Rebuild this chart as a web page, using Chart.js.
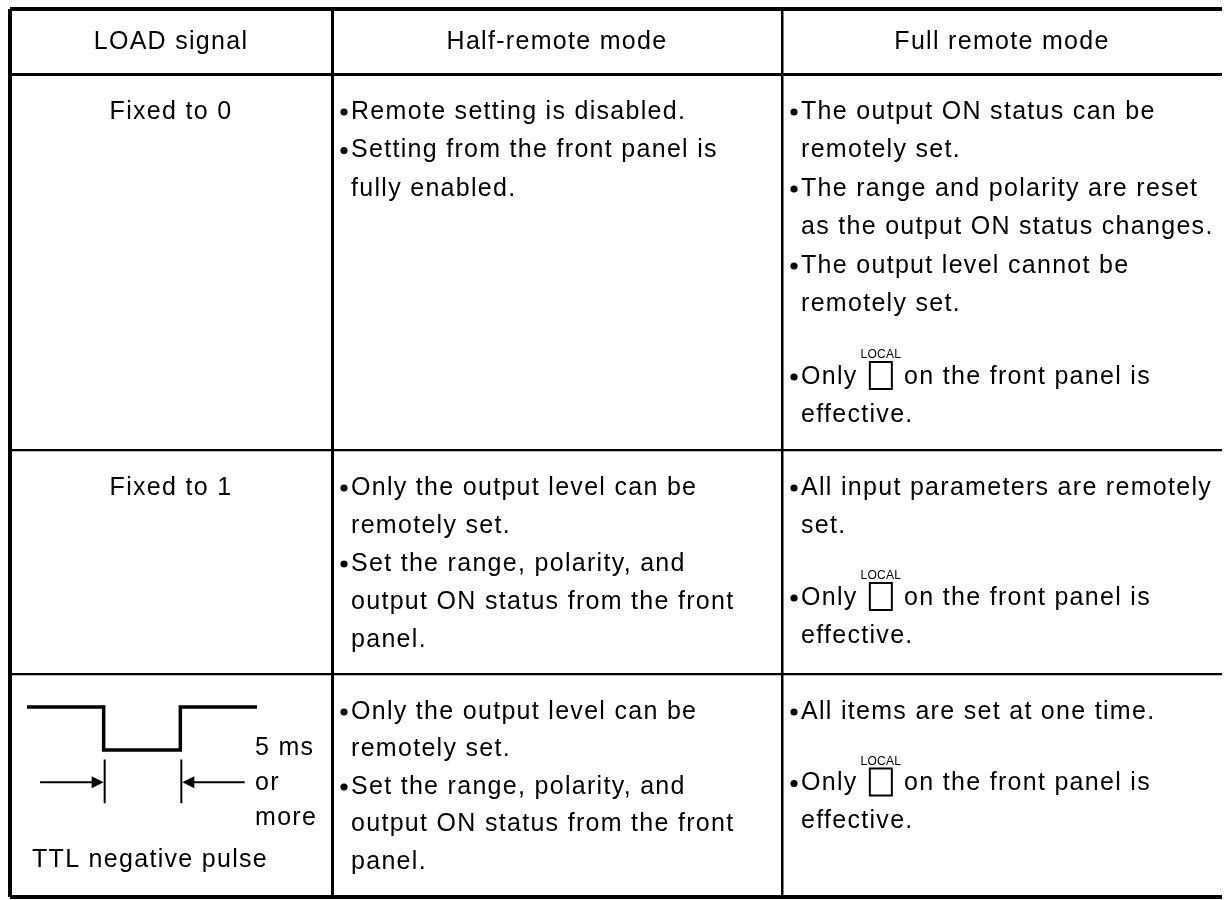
<!DOCTYPE html>
<html>
<head>
<meta charset="utf-8">
<script src="https://cdn.jsdelivr.net/npm/chart.js@4.4.1/dist/chart.umd.min.js"></script>
<style>
  html, body { margin: 0; padding: 0; background: #fff; }
  #wrap { width: 1226px; height: 900px; }
</style>
</head>
<body>
<div id="wrap"><canvas id="tabla"></canvas></div>
<script>
// ---- data ----
const headers = ["LOAD signal", "Half-remote mode", "Full remote mode"];
const loadSignal = ["Fixed to 0", "Fixed to 1", "TTL negative pulse"];

// each cell = list of bullets, each bullet = list of text lines
const halfRemote = [
  [["Remote setting is disabled."],
   ["Setting from the front panel is", "fully enabled."]],
  [["Only the output level can be", "remotely set."],
   ["Set the range, polarity, and", "output ON status from the front", "panel."]],
  [["Only the output level can be", "remotely set."],
   ["Set the range, polarity, and", "output ON status from the front", "panel."]]
];
const fullRemote = [
  [["The output ON status can be", "remotely set."],
   ["The range and polarity are reset", "as the output ON status changes."],
   ["The output level cannot be", "remotely set."],
   ["Only {LOCAL} on the front panel is", "effective."]],
  [["All input parameters are remotely", "set."],
   ["Only {LOCAL} on the front panel is", "effective."]],
  [["All items are set at one time."],
   ["Only {LOCAL} on the front panel is", "effective."]]
];
const keyLabel = "LOCAL";

// TTL pulse (time in ms, logic level)
const pulseTime = [0, 5, 5, 10, 10, 15];
const pulseLevel = [1, 1, 0, 0, 1, 1];
const pulseNote = ["5 ms", "or", "more"];

// ---- layout ----
const COLS = [10, 332, 782, 1222];
const ROWS = [9, 74, 450, 674, 897];
const COL_W = [4, 3, 2.5];
const ROW_W = [4, 3, 2.2, 2.2, 4];
const FONT = '25px "Liberation Sans", Arial, sans-serif';
const SPACING = '1.3px';
const KEY_FONT = '12px "Liberation Sans", Arial, sans-serif';
const TEXT_COLOR = '#000';
const PITCH = [38.5, 38, 37.5];   // line pitch per row
const FIRST = 38;                 // row top -> first line centre
const KEY_EXTRA = 34;             // extra room above a line with the LOCAL key
const BUL_X = 12, TXT_X = 19, CONT_X = 19;
const KEY_BOX = { w: 22, up: 15, down: 12, gap: 4 };
const PULSE_ROW = 2;
const PULSE_BOX = { left: 27, right: 257, top: 707, bottom: 750 };
const ARROW = { y: -0.75, tickTop: -0.22, tickBottom: -1.24, tailL: 0.85, tailR: 14.2 };
const NOTE = { x: 255, y: [748, 783, 818] };
const TTL_POS = { x: 32, y: 860 };

// value range for a hidden scale so that v0->d0 and v1->d1 (distance from area start)
function fitRange(v0, v1, d0, d1, span) {
  const ppu = (d1 - d0) / (v1 - v0);
  const min = v0 - d0 / ppu;
  return { min: min, max: min + span / ppu };
}
const areaW = COLS[3] - COLS[0], areaH = ROWS[4] - ROWS[0];
const xPr = fitRange(0, 15, PULSE_BOX.left - COLS[0], PULSE_BOX.right - COLS[0], areaW);
const yPr = fitRange(0, 1, ROWS[4] - PULSE_BOX.bottom, ROWS[4] - PULSE_BOX.top, areaH);

function drawCell(ctx, px, py, items, colLeft, yStart, pitch) {
  let y = yStart;
  items.forEach(lines => {
    lines.forEach((line, k) => {
      if (line.includes('{LOCAL}') && y > yStart) y += KEY_EXTRA;
      let x = colLeft + (k === 0 ? TXT_X : CONT_X);
      if (k === 0) {
        ctx.beginPath();
        ctx.arc(px(colLeft + BUL_X), py(y), 3.6, 0, Math.PI * 2);
        ctx.fill();
      }
      ctx.textAlign = 'left';
      if (line.includes('{LOCAL}')) {
        const parts = line.split('{LOCAL}');
        ctx.fillText(parts[0], px(x), py(y));
        x += ctx.measureText(parts[0]).width + KEY_BOX.gap;
        // key box with its label
        ctx.lineWidth = 2;
        ctx.strokeRect(px(x), py(y - KEY_BOX.up), KEY_BOX.w, KEY_BOX.up + KEY_BOX.down);
        ctx.save();
        ctx.font = KEY_FONT;
        ctx.letterSpacing = '0.3px';
        ctx.textAlign = 'center';
        ctx.textBaseline = 'alphabetic';
        ctx.fillText(keyLabel, px(x + KEY_BOX.w / 2), py(y - KEY_BOX.up - 4));
        ctx.restore();
        x += KEY_BOX.w + KEY_BOX.gap;
        ctx.fillText(parts[1], px(x), py(y));
      } else {
        ctx.fillText(line, px(x), py(y));
      }
      y += pitch;
    });
  });
}

const tablaPlugin = {
  id: 'tabla',
  afterDraw(chart) {
    const ctx = chart.ctx;
    const sx = chart.scales.x, sy = chart.scales.y;
    const px = v => sx.getPixelForValue(v), py = v => sy.getPixelForValue(v);
    ctx.save();
    ctx.fillStyle = TEXT_COLOR;
    ctx.strokeStyle = TEXT_COLOR;
    ctx.font = FONT;
    ctx.letterSpacing = SPACING;
    ctx.textBaseline = 'middle';

    ctx.textAlign = 'center';
    headers.forEach((h, i) => {
      ctx.fillText(h, px((COLS[i] + COLS[i + 1]) / 2), py((ROWS[0] + ROWS[1]) / 2 + 1));
    });

    loadSignal.forEach((t, r) => {
      const first = ROWS[r + 1] + FIRST;
      if (r === PULSE_ROW) {
        ctx.textAlign = 'left';
        ctx.fillText(t, px(TTL_POS.x), py(TTL_POS.y));
      } else {
        ctx.textAlign = 'center';
        ctx.fillText(t, px((COLS[0] + COLS[1]) / 2), py(first));
      }
      drawCell(ctx, px, py, halfRemote[r], COLS[1], first, PITCH[r]);
      drawCell(ctx, px, py, fullRemote[r], COLS[2], first, PITCH[r]);
    });

    // pulse width marks
    ctx.textAlign = 'left';
    pulseNote.forEach((t, i) => ctx.fillText(t, px(NOTE.x), py(NOTE.y[i])));
    const qx = chart.scales.xP, qy = chart.scales.yP;
    const x1 = qx.getPixelForValue(pulseTime[1]), x2 = qx.getPixelForValue(pulseTime[3]);
    const ay = qy.getPixelForValue(ARROW.y);
    ctx.lineWidth = 2;
    ctx.beginPath();
    [x1 + 1, x2 + 1].forEach(x => {
      ctx.moveTo(x, qy.getPixelForValue(ARROW.tickTop));
      ctx.lineTo(x, qy.getPixelForValue(ARROW.tickBottom));
    });
    ctx.moveTo(qx.getPixelForValue(ARROW.tailL), ay);
    ctx.lineTo(x1 - 4, ay);
    ctx.moveTo(qx.getPixelForValue(ARROW.tailR), ay);
    ctx.lineTo(x2 + 6, ay);
    ctx.stroke();
    ctx.beginPath();
    ctx.moveTo(x1, ay); ctx.lineTo(x1 - 12, ay - 6); ctx.lineTo(x1 - 12, ay + 6); ctx.closePath();
    ctx.moveTo(x2 + 2, ay); ctx.lineTo(x2 + 14, ay - 6); ctx.lineTo(x2 + 14, ay + 6); ctx.closePath();
    ctx.fill();
    ctx.restore();
  }
};

new Chart(document.getElementById('tabla'), {
  type: 'scatter',
  data: {
    datasets: [{
      label: 'TTL',
      data: pulseTime.map((t, i) => ({ x: t, y: pulseLevel[i] })),
      xAxisID: 'xP',
      yAxisID: 'yP',
      showLine: true,
      borderColor: '#000',
      borderWidth: 3.5,
      borderJoinStyle: 'miter',
      pointRadius: 0,
      clip: false
    }]
  },
  options: {
    responsive: true,
    maintainAspectRatio: false,
    animation: false,
    events: [],
    layout: { padding: { left: COLS[0], top: ROWS[0], right: 1226 - COLS[3], bottom: 900 - ROWS[4] } },
    plugins: { legend: { display: false }, tooltip: { enabled: false } },
    scales: {
      x: {
        type: 'linear', min: COLS[0], max: COLS[3],
        ticks: { display: false, autoSkip: false },
        afterBuildTicks: s => { s.ticks = COLS.slice(0, 3).map(v => ({ value: v })); },
        afterFit: s => { s.height = 0; },
        border: { display: false },
        grid: { color: '#000', drawTicks: false, lineWidth: c => COL_W[c.index] }
      },
      y: {
        type: 'linear', reverse: true, min: ROWS[0], max: ROWS[4],
        ticks: { display: false, autoSkip: false },
        afterBuildTicks: s => { s.ticks = ROWS.map(v => ({ value: v })); },
        afterFit: s => { s.width = 0; },
        border: { display: false },
        grid: { color: '#000', drawTicks: false, lineWidth: c => ROW_W[c.index] }
      },
      xP: { type: 'linear', axis: 'x', display: false, min: xPr.min, max: xPr.max },
      yP: { type: 'linear', axis: 'y', display: false, min: yPr.min, max: yPr.max }
    }
  },
  plugins: [tablaPlugin]
});
</script>
</body>
</html>
